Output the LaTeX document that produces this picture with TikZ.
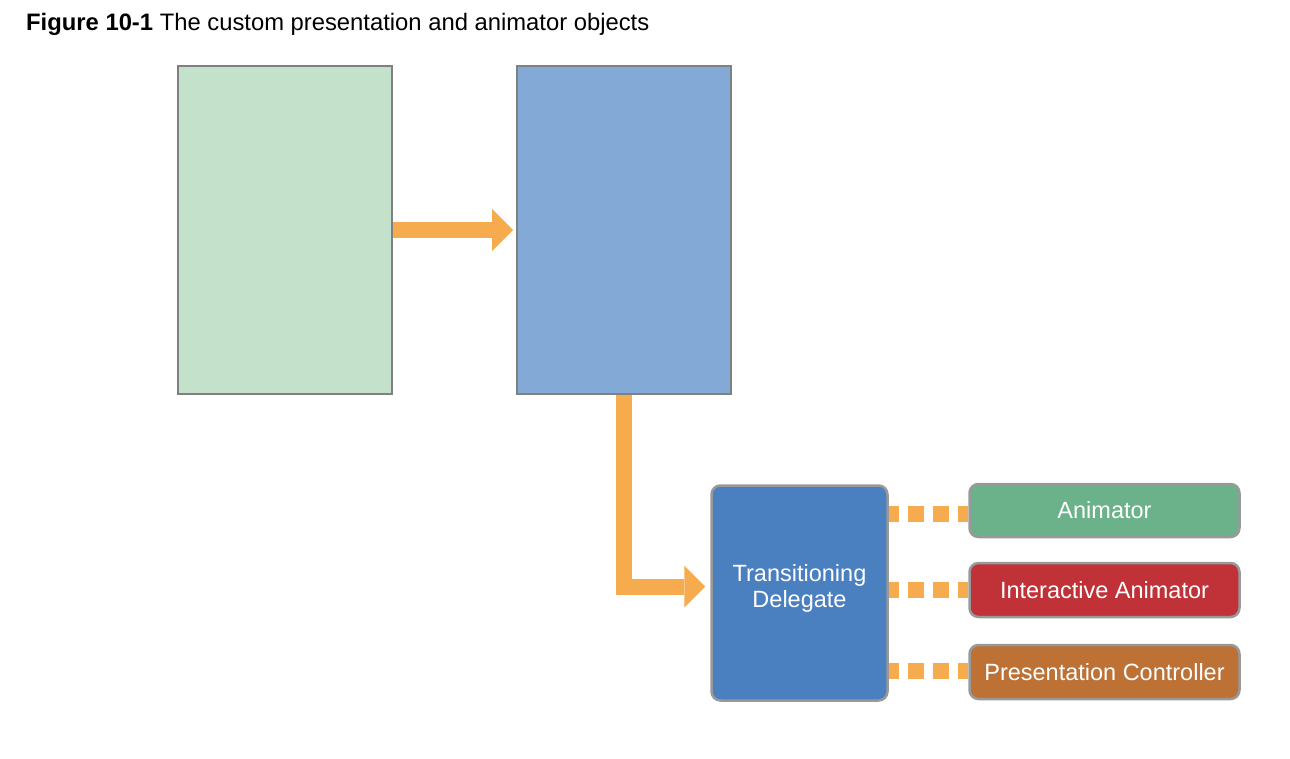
\documentclass[tikz,border=0pt]{standalone}
\usepackage{fontspec}
\setmainfont{Liberation Sans}
\usepackage{tikz}
\usetikzlibrary{positioning}
\usetikzlibrary{arrows.meta}

\definecolor{viewgreen}{HTML}{C4E1CB}
\definecolor{viewblue}{HTML}{83AAD6}
\definecolor{flow}{HTML}{F5AB4E}
\definecolor{delegate}{HTML}{4A7FC0}
\definecolor{anim}{HTML}{6BB28A}
\definecolor{interactive}{HTML}{C03238}
\definecolor{presctl}{HTML}{BE7135}

\begin{document}
\begin{tikzpicture}[x=1pt, y=-1pt,
    view/.style = {draw=black!50, line width=2pt, minimum width=214pt, minimum height=328pt, inner sep=0pt},
    obj/.style = {draw=black!40, line width=2.5pt, rounded corners=9pt, text=white, inner sep=0pt,
        font=\fontsize{23.5}{25}\selectfont},
    side/.style = {obj, minimum width=270pt, minimum height=53pt},
    flowline/.style = {flow, line width=16pt, -{Triangle[width=42pt, length=21pt, line width=0pt]}},
    link/.style = {flow, line width=16pt, dash pattern=on 16pt off 9pt, dash phase=6pt}]
    \useasboundingbox (0,0) rectangle (1290,758);

    \node[anchor=base west, inner sep=0pt, font=\fontsize{23.8}{26}\selectfont] (title) at (26,30)
        {\textbf{Figure 10-1} The custom presentation and animator objects};

    \node[view, fill=viewgreen] (G) at (285,230) {};
    \node[view, fill=viewblue] (B) at (624,230) {};
    \node[obj, fill=delegate, minimum width=176pt, minimum height=215pt] (TD) at (799.5,593) {};
    \node[text=white, align=center, font=\fontsize{23.5}{26}\selectfont] (TDtext) at (799.5,588)
        {Transitioning\\Delegate};
    \node[side, fill=anim] (A) at (1104.5,510.5) {Animator};
    \node[side, fill=interactive, minimum height=54pt] (IA) at (1104.5,590) {Interactive Animator};
    \node[side, fill=presctl, minimum height=54pt] (PC) at (1104.5,672) {Presentation Controller};

    \draw[flowline, shorten >=3pt] (G) -- (B);
    \draw[flowline, shorten >=5pt] (B.south) |- ([yshift=6.5pt]TD.west);
    \draw[link] ([yshift=-3.5pt]A.west -| TD.east) -- ([yshift=-3.5pt]A.west);
    \draw[link] (IA.west -| TD.east) -- (IA.west);
    \draw[link] ([yshift=1pt]PC.west -| TD.east) -- ([yshift=1pt]PC.west);
\end{tikzpicture}
\end{document}
